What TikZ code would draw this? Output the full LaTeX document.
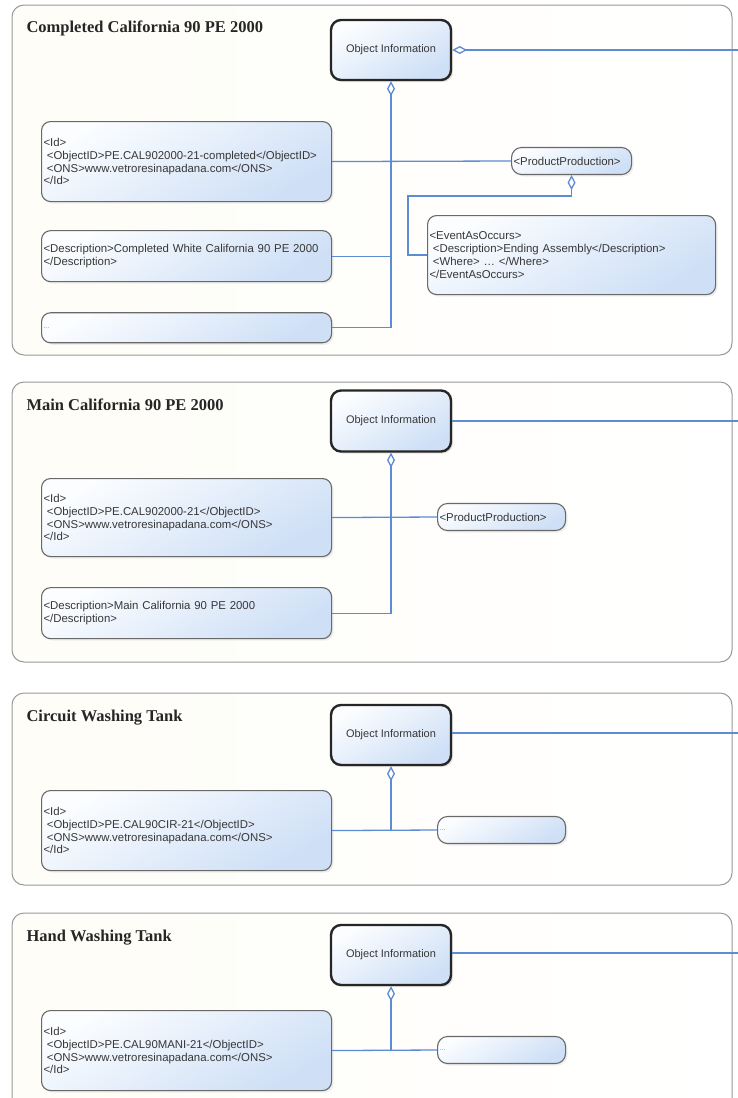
\documentclass[tikz,border=0pt]{standalone}
\usepackage{fontspec}
\setmainfont{Liberation Serif}
\setsansfont{Liberation Sans}
\usepackage{xcolor}
\usetikzlibrary{arrows.meta,positioning,shadows}

\definecolor{linkblue}{RGB}{92,140,214}
\definecolor{boxtop}{RGB}{251,253,255}
\definecolor{boxbot}{RGB}{206,223,246}
\definecolor{boxline}{RGB}{105,105,105}
\definecolor{txtgray}{RGB}{55,55,55}
\definecolor{panelfill}{RGB}{254,253,247}

\begin{document}
\begin{tikzpicture}[
  x=1pt, y=-1pt,
  panel/.style={draw=gray!80, line width=1pt, rounded corners=12pt, left color=panelfill, right color=white},
  title/.style={anchor=west, font=\fontsize{16.5}{18}\selectfont\bfseries, text=black!85},
  objbox/.style={rectangle, draw=black!85, line width=2.4pt, rounded corners=10pt, top color=boxtop, bottom color=boxbot, shading angle=30, minimum width=120pt, minimum height=60pt, font=\sffamily\fontsize{11}{13}\selectfont, text=txtgray, drop shadow={opacity=0.2, shadow xshift=2pt, shadow yshift=-2pt}},
  xmlbox/.style={rectangle, draw=boxline, line width=1.1pt, rounded corners=9pt, top color=boxtop, bottom color=boxbot, shading angle=30, minimum width=290pt, text width=286pt, inner sep=2pt, align=left, font=\sffamily\fontsize{11.4}{12.8}\selectfont, text=txtgray, drop shadow={opacity=0.12, shadow xshift=2pt, shadow yshift=-2pt}},
  tagbox/.style={xmlbox, anchor=west, minimum width=128pt, text width=124pt, minimum height=27pt, rounded corners=10pt},
  dotsfont/.style={font=\sffamily\fontsize{7}{8}\selectfont, text=gray},
  link/.style={draw=linkblue, line width=1.3pt},
  agg/.style={link, {Diamond[open, length=15pt, width=8pt]}-}
]
  \useasboundingbox (0,0) rectangle (738,1098);
  \clip (0,0) rectangle (738,1098);
  \fill[white] (0,0) rectangle (738,1098);

  % Completed California 90 PE 2000
  \draw[panel] (12,5) rectangle (732,355);
  \node[title] (t1) at (23,28) {Completed California 90 PE 2000};
  \node[objbox] (obj1) at (391,50) {Object Information};
  \node[xmlbox, minimum height=80pt, anchor=north west] (id1) at (41,121) {<Id>\\\hspace*{0.3em}<ObjectID>PE.CAL902000-21-completed</ObjectID>\\\hspace*{0.3em}<ONS>www.vetroresinapadana.com</ONS>\\</Id>};
  \node[xmlbox, minimum height=51pt, below=28pt of id1] (desc1) {<Description>Completed White California 90 PE 2000\\</Description>};
  \node[xmlbox, minimum height=30pt, below=30pt of desc1, dotsfont] (more1) {...};
  \node[tagbox, minimum width=120pt, text width=116pt] (pp1) at (511,161) {<ProductProduction>};
  \node[xmlbox, minimum width=288pt, text width=284pt, minimum height=79pt, anchor=north west] (ev1) at (427,215) {<EventAsOccurs>\\\hspace*{0.3em}<Description>Ending Assembly</Description>\\\hspace*{0.3em}<Where> … </Where>\\</EventAsOccurs>};
  \coordinate (r1) at (738,50);
  \draw[agg] (obj1.east) -- (r1);
  \draw[agg] (obj1.south) -- (obj1.south |- more1.east) -- (more1.east);
  \draw[link] (desc1.east) -- (desc1.east -| obj1.south);
  \draw[link] (id1.east) -- (pp1.west);
  \draw[agg] (pp1.south) -- ++(0,21) -| ([xshift=-19pt]ev1.west) -- (ev1.west);

  % Main California 90 PE 2000
  \draw[panel] (12,382) rectangle (732,662);
  \node[title] (t2) at (23,405) {Main California 90 PE 2000};
  \node[objbox, minimum height=61pt] (obj2) at (391,421) {Object Information};
  \node[xmlbox, minimum height=78pt, anchor=north west] (id2) at (41,478) {<Id>\\\hspace*{0.3em}<ObjectID>PE.CAL902000-21</ObjectID>\\\hspace*{0.3em}<ONS>www.vetroresinapadana.com</ONS>\\</Id>};
  \node[xmlbox, minimum height=51pt, below=30pt of id2] (desc2) {<Description>Main California 90 PE 2000\\</Description>};
  \node[tagbox] (pp2) at (437,517) {<ProductProduction>};
  \coordinate (r2) at (738,421);
  \draw[link] (obj2.east) -- (r2);
  \draw[agg] (obj2.south) -- (obj2.south |- desc2.east) -- (desc2.east);
  \draw[link] (id2.east) -- (pp2.west);

  % Circuit Washing Tank
  \draw[panel] (12,693) rectangle (732,885);
  \node[title] (t3) at (23,718) {Circuit Washing Tank};
  \node[objbox] (obj3) at (391,735) {Object Information};
  \node[xmlbox, minimum height=80pt, anchor=north west] (id3) at (41,790) {<Id>\\\hspace*{0.3em}<ObjectID>PE.CAL90CIR-21</ObjectID>\\\hspace*{0.3em}<ONS>www.vetroresinapadana.com</ONS>\\</Id>};
  \node[tagbox, dotsfont] (more3) at (437,830) {...};
  \coordinate (r3) at (738,733);
  \draw[link] (obj3.east |- r3) -- (r3);
  \draw[agg] (obj3.south) -- (obj3.south |- id3.east);
  \draw[link] (id3.east) -- (more3.west);

  % Hand Washing Tank
  \draw[panel] (12,913) rectangle (732,1130);
  \node[title] (t4) at (23,938) {Hand Washing Tank};
  \node[objbox] (obj4) at (391,955) {Object Information};
  \node[xmlbox, minimum height=80pt, anchor=north west] (id4) at (41,1010) {<Id>\\\hspace*{0.3em}<ObjectID>PE.CAL90MANI-21</ObjectID>\\\hspace*{0.3em}<ONS>www.vetroresinapadana.com</ONS>\\</Id>};
  \node[tagbox, dotsfont] (more4) at (437,1050) {...};
  \coordinate (r4) at (738,953);
  \draw[link] (obj4.east |- r4) -- (r4);
  \draw[agg] (obj4.south) -- (obj4.south |- id4.east);
  \draw[link] (id4.east) -- (more4.west);
\end{tikzpicture}
\end{document}
